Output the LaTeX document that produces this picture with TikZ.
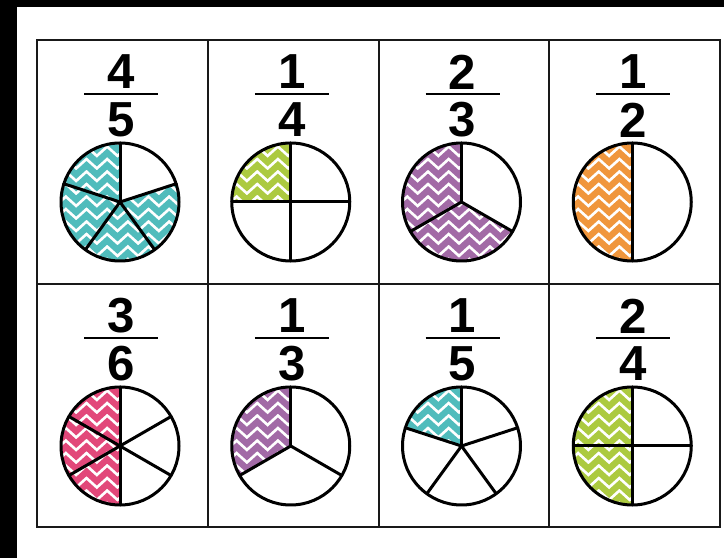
\documentclass[tikz,border=0pt]{standalone}
\usepackage{fontspec}
\setmainfont{Liberation Sans}
\usetikzlibrary{decorations.pathmorphing}

\definecolor{chevteal}{RGB}{80,188,188}
\definecolor{chevlime}{RGB}{172,202,64}
\definecolor{chevpurple}{RGB}{162,106,166}
\definecolor{chevorange}{RGB}{240,150,60}
\definecolor{chevpink}{RGB}{226,72,122}

\tikzset{
  waku/.style={line width=0.06cm,draw=black!90},
  en/.style={line width=0.09cm,line cap=round},
  suji/.style={font=\fontsize{42}{42}\selectfont\bfseries,inner sep=0pt},
  chevron/.style={line width=0.19cm,line join=miter,decorate,
    decoration={zigzag,segment length=0.62cm,amplitude=0.14cm}}
}

\begin{document}
\begin{tikzpicture}[x=0.03cm,y=0.03cm]
%背景
\fill[black](0,0)rectangle(724,558);
\fill[white](17,0)rectangle(724,551);

%枠
\draw[waku](37,31)rectangle(720,518);
\draw[waku](37,274)--(720,274); %横線
\foreach \k in {1,2,3}
  \draw[waku]({37+170.75*\k},31)--({37+170.75*\k},518); %縦線

%分数と円
\foreach \i/\j/\numer/\denom/\col in {0/0/4/5/chevteal,1/0/1/4/chevlime,2/0/2/3/chevpurple,3/0/1/2/chevorange,
    0/1/3/6/chevpink,1/1/1/3/chevpurple,2/1/1/5/chevteal,3/1/2/4/chevlime}{
  \pgfmathsetmacro\cx{37+170.75*\i+83}
  \pgfmathsetmacro\ytop{518-244*\j}
  \pgfmathsetmacro\cy{\ytop-162}
  \pgfmathsetmacro\ea{90+360*\numer/\denom}
  %分数
  \node[suji](num\i\j) at (\cx+1,\ytop-32){\numer};
  \node[suji](den\i\j) at (\cx+1,\ytop-80){\denom};
  \draw[line width=0.085cm](\cx-36,\ytop-54)--(\cx+38,\ytop-54); %線
  %塗り
  \begin{scope}
    \clip(\cx,\cy)--++(90:59)arc[start angle=90,end angle=\ea,radius=59]--cycle;
    \foreach \yy in {-68,-55.5,...,72}
      \draw[chevron,\col](\cx-80,\cy+\yy)--(\cx+80,\cy+\yy);
  \end{scope}
  %円
  \foreach \m in {1,...,\denom}
    \draw[en](\cx,\cy)--++({90+360*\m/\denom}:59);
  \draw[en](\cx,\cy)circle[radius=59];
}
\end{tikzpicture}
\end{document}
